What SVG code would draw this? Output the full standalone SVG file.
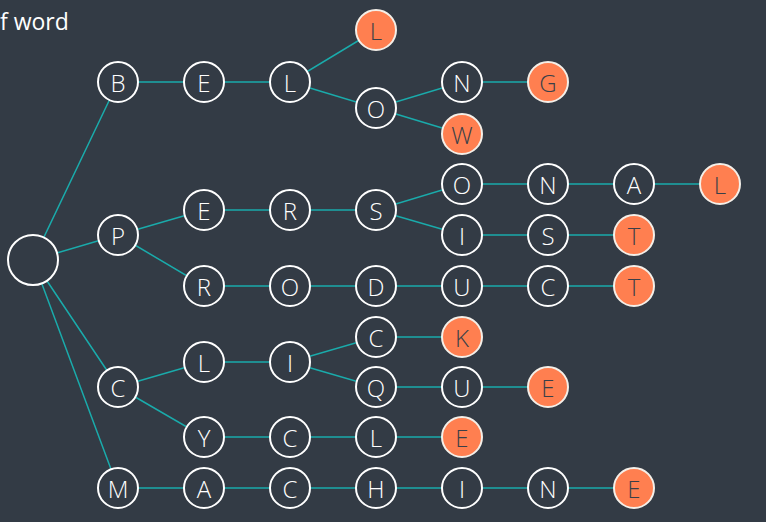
<svg xmlns="http://www.w3.org/2000/svg" width="766" height="522" viewBox="0 0 766 522">
<style>
.bg{fill:#333b45}
.e{stroke:#1aabab;stroke-width:1.5;fill:none}
.n circle{fill:#333b45;stroke:#ffffff;stroke-width:2}
.o circle{fill:#ff7f50;stroke:#f4efe8;stroke-width:2}
.n text,.o text{font-family:"Open Sans","DejaVu Sans",sans-serif;font-size:24px;font-weight:300;text-anchor:middle;dominant-baseline:central}
.n text{fill:#ffffff}
.o text{fill:#3a3f48}
.t{font-family:"Open Sans","DejaVu Sans",sans-serif;font-size:23px;fill:#ffffff}
</style>
<rect class="bg" width="766" height="522"/>
<text class="t" x="0" y="30">f word</text>
<g id="connectors" class="e">
<path d="M33 260L118 82M33 260L118 235M33 260L118 387M33 260L118 488"/>
<path d="M118 82L204 82L290 82L376 30M290 82L376 108L462 82L548 82M376 108L462 134"/>
<path d="M118 235L204 210L290 210L376 210L462 184L548 184L634 184L720 184M376 210L462 235L548 235L634 235"/>
<path d="M118 235L204 286L290 286L376 286L462 286L548 286L634 286"/>
<path d="M118 387L204 362L290 362L376 337L462 337M290 362L376 387L462 387L548 387M118 387L204 437L290 437L376 437L462 437"/>
<path d="M118 488L204 488L290 488L376 488L462 488L548 488L634 488"/>
</g>
<g id="root" class="n"><circle cx="33" cy="260" r="25"/></g>
<g id="n-B" class="n"><circle cx="118" cy="82" r="20"/><text x="118" y="82">B</text></g>
<g id="n-BE" class="n"><circle cx="204" cy="82" r="20"/><text x="204" y="82">E</text></g>
<g id="n-BEL" class="n"><circle cx="290" cy="82" r="20"/><text x="290" y="82">L</text></g>
<g id="n-BELL" class="o"><circle cx="376" cy="30" r="20"/><text x="376" y="30">L</text></g>
<g id="n-BELO" class="n"><circle cx="376" cy="108" r="20"/><text x="376" y="108">O</text></g>
<g id="n-BELON" class="n"><circle cx="462" cy="82" r="20"/><text x="462" y="82">N</text></g>
<g id="n-BELONG" class="o"><circle cx="548" cy="82" r="20"/><text x="548" y="82">G</text></g>
<g id="n-BELOW" class="o"><circle cx="462" cy="134" r="20"/><text x="462" y="134">W</text></g>
<g id="n-P" class="n"><circle cx="118" cy="235" r="20"/><text x="118" y="235">P</text></g>
<g id="n-PE" class="n"><circle cx="204" cy="210" r="20"/><text x="204" y="210">E</text></g>
<g id="n-PER" class="n"><circle cx="290" cy="210" r="20"/><text x="290" y="210">R</text></g>
<g id="n-PERS" class="n"><circle cx="376" cy="210" r="20"/><text x="376" y="210">S</text></g>
<g id="n-PERSO" class="n"><circle cx="462" cy="184" r="20"/><text x="462" y="184">O</text></g>
<g id="n-PERSON" class="n"><circle cx="548" cy="184" r="20"/><text x="548" y="184">N</text></g>
<g id="n-PERSONA" class="n"><circle cx="634" cy="184" r="20"/><text x="634" y="184">A</text></g>
<g id="n-PERSONAL" class="o"><circle cx="720" cy="184" r="20"/><text x="720" y="184">L</text></g>
<g id="n-PERSI" class="n"><circle cx="462" cy="235" r="20"/><text x="462" y="235">I</text></g>
<g id="n-PERSIS" class="n"><circle cx="548" cy="235" r="20"/><text x="548" y="235">S</text></g>
<g id="n-PERSIST" class="o"><circle cx="634" cy="235" r="20"/><text x="634" y="235">T</text></g>
<g id="n-PR" class="n"><circle cx="204" cy="286" r="20"/><text x="204" y="286">R</text></g>
<g id="n-PRO" class="n"><circle cx="290" cy="286" r="20"/><text x="290" y="286">O</text></g>
<g id="n-PROD" class="n"><circle cx="376" cy="286" r="20"/><text x="376" y="286">D</text></g>
<g id="n-PRODU" class="n"><circle cx="462" cy="286" r="20"/><text x="462" y="286">U</text></g>
<g id="n-PRODUC" class="n"><circle cx="548" cy="286" r="20"/><text x="548" y="286">C</text></g>
<g id="n-PRODUCT" class="o"><circle cx="634" cy="286" r="20"/><text x="634" y="286">T</text></g>
<g id="n-C" class="n"><circle cx="118" cy="387" r="20"/><text x="118" y="387">C</text></g>
<g id="n-CL" class="n"><circle cx="204" cy="362" r="20"/><text x="204" y="362">L</text></g>
<g id="n-CLI" class="n"><circle cx="290" cy="362" r="20"/><text x="290" y="362">I</text></g>
<g id="n-CLIC" class="n"><circle cx="376" cy="337" r="20"/><text x="376" y="337">C</text></g>
<g id="n-CLICK" class="o"><circle cx="462" cy="337" r="20"/><text x="462" y="337">K</text></g>
<g id="n-CLIQ" class="n"><circle cx="376" cy="387" r="20"/><text x="376" y="387">Q</text></g>
<g id="n-CLIQU" class="n"><circle cx="462" cy="387" r="20"/><text x="462" y="387">U</text></g>
<g id="n-CLIQUE" class="o"><circle cx="548" cy="387" r="20"/><text x="548" y="387">E</text></g>
<g id="n-CY" class="n"><circle cx="204" cy="437" r="20"/><text x="204" y="437">Y</text></g>
<g id="n-CYC" class="n"><circle cx="290" cy="437" r="20"/><text x="290" y="437">C</text></g>
<g id="n-CYCL" class="n"><circle cx="376" cy="437" r="20"/><text x="376" y="437">L</text></g>
<g id="n-CYCLE" class="o"><circle cx="462" cy="437" r="20"/><text x="462" y="437">E</text></g>
<g id="n-M" class="n"><circle cx="118" cy="488" r="20"/><text x="118" y="488">M</text></g>
<g id="n-MA" class="n"><circle cx="204" cy="488" r="20"/><text x="204" y="488">A</text></g>
<g id="n-MAC" class="n"><circle cx="290" cy="488" r="20"/><text x="290" y="488">C</text></g>
<g id="n-MACH" class="n"><circle cx="376" cy="488" r="20"/><text x="376" y="488">H</text></g>
<g id="n-MACHI" class="n"><circle cx="462" cy="488" r="20"/><text x="462" y="488">I</text></g>
<g id="n-MACHIN" class="n"><circle cx="548" cy="488" r="20"/><text x="548" y="488">N</text></g>
<g id="n-MACHINE" class="o"><circle cx="634" cy="488" r="20"/><text x="634" y="488">E</text></g>
</svg>
